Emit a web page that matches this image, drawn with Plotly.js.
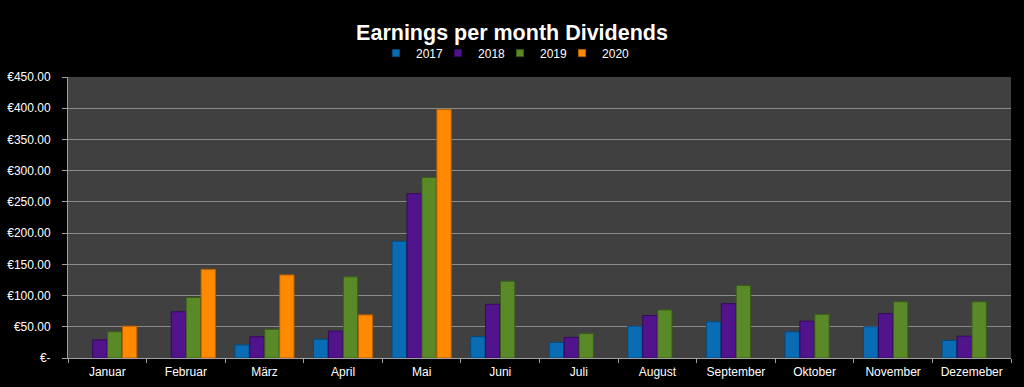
<!DOCTYPE html>
<html>
<head>
<meta charset="utf-8">
<script src="https://cdn.plot.ly/plotly-3.0.1.min.js"></script>
<style>html,body{margin:0;padding:0;background:#000;}#chart{width:1024px;height:387px;}</style>
</head>
<body>
<div id="chart"></div>
<script>
const months = ["Januar","Februar","März","April","Mai","Juni","Juli","August","September","Oktober","November","Dezemeber"];
const v2017 = [null, null, 21, 30, 187, 34, 25, 51, 58, 42, 50, 28];
const v2018 = [29, 74, 34, 43, 263, 86, 33, 68, 87, 59, 71, 35];
const v2019 = [42, 97, 46, 130, 289, 123, 39, 77, 116, 70, 90, 90];
const v2020 = [51, 142, 133, 69, 398, null, null, null, null, null, null, null];
const seriesNames = ["2017","2018","2019","2020"];
const yTickVals = [0,50,100,150,200,250,300,350,400,450];
const yTickText = ["€-","€50.00","€100.00","€150.00","€200.00","€250.00","€300.00","€350.00","€400.00","€450.00"];

const colors = ["#0a6cb4","#52148c","#5a8a28","#ff8a00"];
const lines = ["#064a7c","#36085e","#3b5c18","#b85e00"];
const legendIds = ["legend","legend2","legend3","legend4"];
const legendX = [0.3266, 0.3924, 0.4581, 0.5239];

const bars = [v2017, v2018, v2019, v2020].map((v, i) => ({
  type: "bar",
  name: seriesNames[i],
  x: months,
  y: v,
  showlegend: false,
  marker: {color: colors[i], line: {color: lines[i], width: 1}},
  hoverinfo: "x+y+name"
}));
// legend-only entries with small square keys (no visible data)
const keys = seriesNames.map((n, i) => ({
  type: "scatter", mode: "markers", name: n, legend: legendIds[i],
  x: [null], y: [null], showlegend: true, hoverinfo: "skip",
  marker: {symbol: "square", size: 7, color: colors[i], line: {color: lines[i], width: 1}}
}));
const data = bars.concat(keys);

const layout = {
  width: 1024, height: 387,
  paper_bgcolor: "#000000",
  plot_bgcolor: "#404040",
  margin: {l: 68, r: 13, t: 77, b: 29},
  font: {family: "Liberation Sans, Arial, sans-serif", color: "#ffffff", size: 12},
  title: {text: "<b>Earnings per month Dividends</b>", x: 0.5, xanchor: "center", y: 0.917, yanchor: "middle",
          font: {size: 21.5, color: "#ffffff", family: "Liberation Sans, Arial, sans-serif"}},
  showlegend: true,
  barmode: "group",
  bargap: 0.24,
  bargroupgap: 0.04,
  xaxis: {
    type: "category",
    categoryorder: "array", categoryarray: months,
    tickson: "boundaries",
    ticks: "outside", ticklen: 4, tickcolor: "#a0a0a0",
    ticklabelstandoff: 3,
    showline: true, linecolor: "#a0a0a0", linewidth: 1,
    showgrid: false,
    tickfont: {size: 12, color: "#ffffff"},
    fixedrange: true
  },
  yaxis: {
    range: [0, 450],
    tickvals: yTickVals, ticktext: yTickText,
    ticks: "outside", ticklen: 5, tickcolor: "#a0a0a0",
    ticklabelstandoff: 9,
    showline: true, linecolor: "#a0a0a0", linewidth: 1,
    showgrid: true, gridcolor: "#8a8a8a", gridwidth: 1,
    zeroline: false,
    tickfont: {size: 12, color: "#ffffff"},
    fixedrange: true
  }
};
legendIds.forEach((id, i) => {
  layout[id] = {orientation: "h", x: legendX[i], xanchor: "left", y: 1.085, yanchor: "middle",
                font: {size: 12, color: "#ffffff"}, bgcolor: "rgba(0,0,0,0)", itemwidth: 30};
});

Plotly.newPlot("chart", data, layout, {displayModeBar: false, staticPlot: true});
</script>
</body>
</html>
